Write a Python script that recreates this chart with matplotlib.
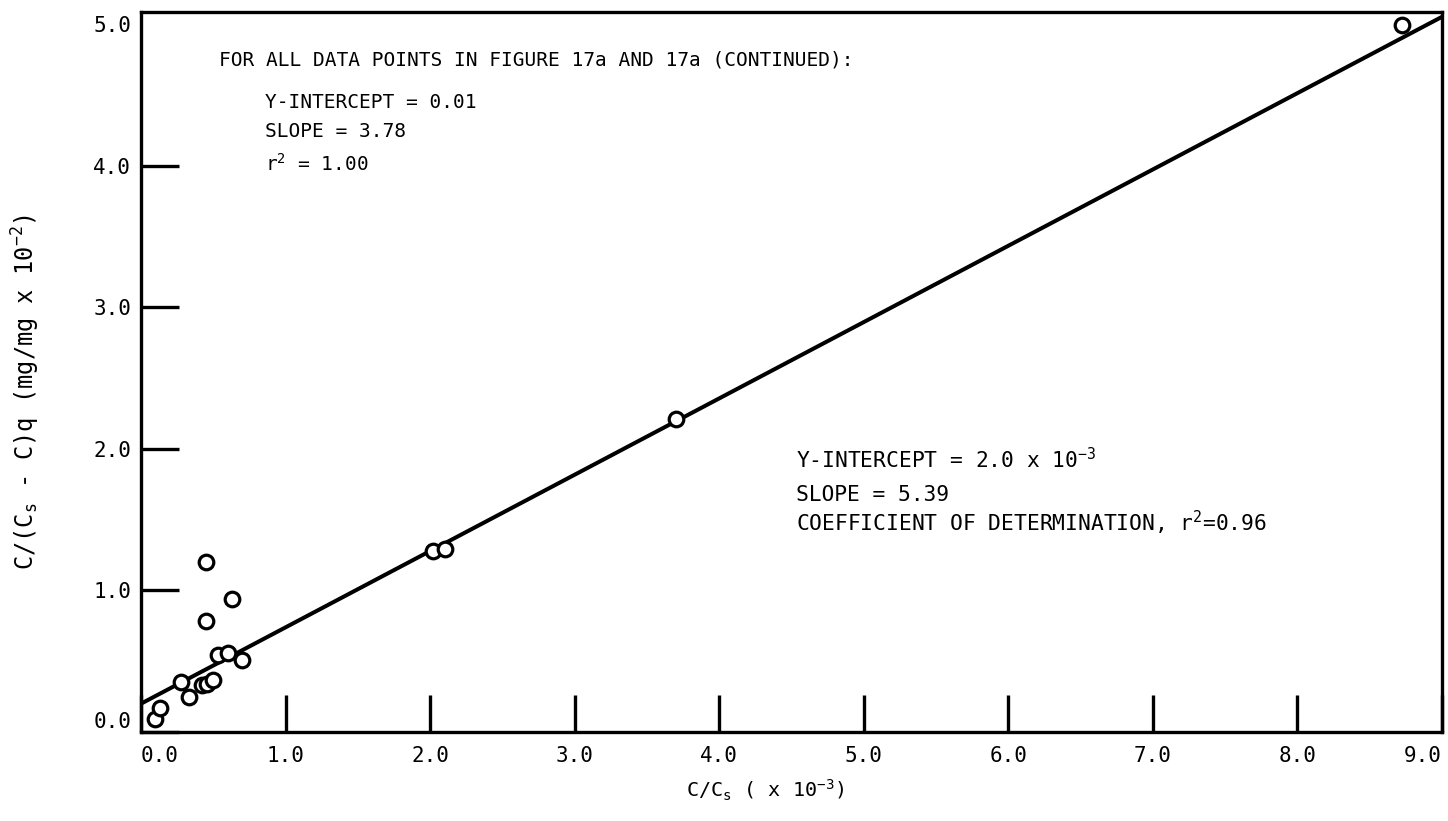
### Linearised isotherm plot: C/(Cs - C)q against C/Cs ###
import matplotlib
matplotlib.use('Agg')
import matplotlib.pyplot as plt
import numpy as np

# typewriter style lettering
plt.rcParams['font.family'] = ['DejaVu Sans Mono']
plt.rcParams['mathtext.fontset'] = 'custom'
plt.rcParams['mathtext.rm'] = 'DejaVu Sans Mono'
plt.rcParams['mathtext.it'] = 'DejaVu Sans Mono'

##### data #####
# C/Cs (x 10^-3)
c_ratio = [0.10, 0.13, 0.28, 0.33, 0.42, 0.46, 0.50, 0.45, 0.45, 0.53, 0.60, 0.63, 0.70,
           2.02, 2.10, 3.70, 8.72]
# C/(Cs - C)q (mg/mg x 10^-2)
c_q = [0.09, 0.17, 0.35, 0.245, 0.33, 0.34, 0.37, 0.785, 1.20, 0.545, 0.557, 0.94, 0.51,
       1.28, 1.29, 2.21, 4.99]

# fitted line, stated on the chart
intercept = 2.0e-3   # mg/mg
slope = 5.39
x_ticks = [0.0, 1.0, 2.0, 3.0, 4.0, 5.0, 6.0, 7.0, 8.0, 9.0]
y_ticks = [0.0, 1.0, 2.0, 3.0, 4.0, 5.0]

##### plot #####
fig = plt.figure(figsize=(14.48, 8.21), dpi=100)
ax = fig.add_axes([141/1448, 1 - 732/821, (1442 - 141)/1448, (732 - 12)/821])

# fit line in plot units (x 10^-3 on x, x 10^-2 on y)
xs_fit = np.array([0.0, 9.0])
ys_fit = intercept * 1e2 + slope * xs_fit * 1e-3 * 1e2
ax.plot(xs_fit, ys_fit, color='black', lw=2.9, solid_capstyle='butt', zorder=2)

ax.plot(c_ratio, c_q, 'o', ms=10.5, mfc='white', mec='black', mew=2.3, zorder=3)

ax.set_xlim(0, 9.0)
ax.set_ylim(0, 5.085)
ax.set_xticks(x_ticks)
ax.set_xticklabels([f'{v:.1f}' for v in x_ticks])
ax.set_yticks(y_ticks)
ax.set_yticklabels([f'{v:.1f}' for v in y_ticks])
ax.tick_params(axis='both', direction='in', length=27, width=2.4, labelsize=15)
ax.tick_params(axis='x', pad=10)
ax.tick_params(axis='y', pad=7)
for sp in ax.spines.values():
    sp.set_linewidth(2.4)

# end labels sit inside the box
xl = ax.get_xticklabels()
xl[0].set_horizontalalignment('left')
xl[-1].set_horizontalalignment('right')
ax.get_yticklabels()[0].set_verticalalignment('bottom')
# no tick mark on the top y label
ax.yaxis.get_major_ticks()[-1].tick1line.set_visible(False)

ax.set_xlabel(r'C/C$_\mathrm{s}$ ( x 10$^{-3}$)', fontsize=14.5)
ax.xaxis.set_label_coords(0.48, -0.064)
ax.set_ylabel(r'C/(C$_\mathrm{s}$ - C)q (mg/mg x 10$^{-2}$)', fontsize=17)
ax.yaxis.set_label_coords(-0.076, 0.472)

# fit summaries
ax.text(0.54, 4.71, 'FOR ALL DATA POINTS IN FIGURE 17a AND 17a (CONTINUED):', fontsize=14, va='baseline')
ax.text(0.855, 4.41, 'Y-INTERCEPT = 0.01', fontsize=14, va='baseline')
ax.text(0.855, 4.20, 'SLOPE = 3.78', fontsize=14, va='baseline')
ax.text(0.855, 3.96, r'r$^2$ = 1.00', fontsize=14, va='baseline')

ax.text(4.53, 1.86, r'Y-INTERCEPT = 2.0 x 10$^{-3}$', fontsize=15.3, va='baseline')
ax.text(4.53, 1.63, 'SLOPE = 5.39', fontsize=15.3, va='baseline')
ax.text(4.53, 1.42, r'COEFFICIENT OF DETERMINATION, r$^2$=0.96', fontsize=15.3, va='baseline')

fig.savefig('out.png', dpi=100)
